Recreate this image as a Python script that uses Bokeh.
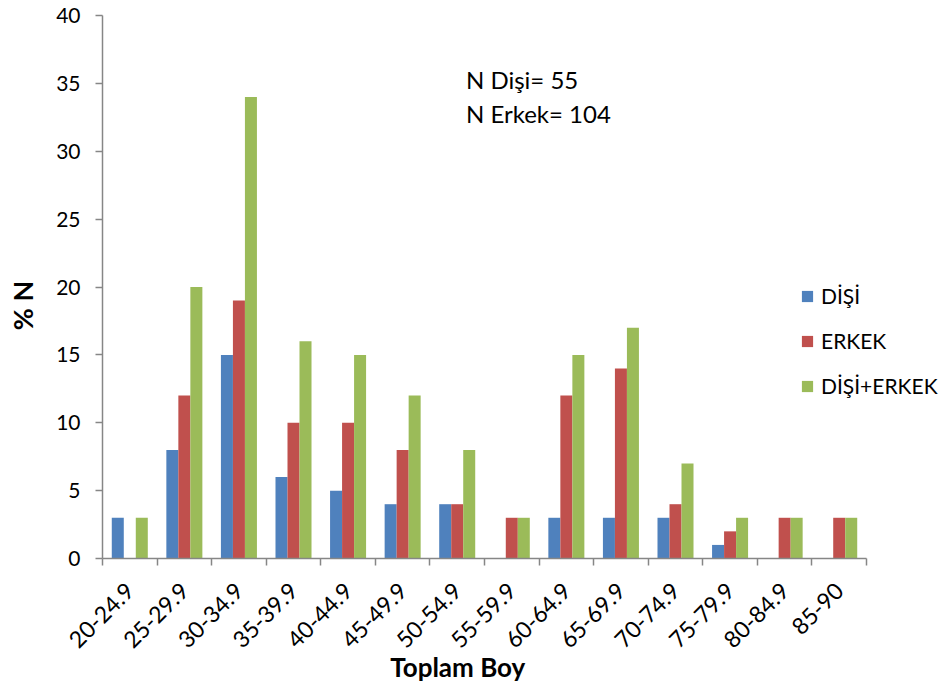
import numpy as np
from bokeh.plotting import figure
from bokeh.models import (ColumnDataSource, Range1d, FixedTicker, Legend, LegendItem, Label)
from bokeh.transform import dodge
from bokeh.embed import file_html
from bokeh.resources import INLINE

# Length classes (Toplam Boy) and percentage of individuals per class
categories = ["20-24.9", "25-29.9", "30-34.9", "35-39.9", "40-44.9", "45-49.9", "50-54.9",
              "55-59.9", "60-64.9", "65-69.9", "70-74.9", "75-79.9", "80-84.9", "85-90"]
disi = [3, 8, 15, 6, 5, 4, 4, 0, 3, 3, 3, 1, 0, 0]
erkek = [0, 12, 19, 10, 10, 8, 4, 3, 12, 14, 4, 2, 3, 3]
disi_erkek = [3, 20, 34, 16, 15, 12, 8, 3, 15, 17, 7, 3, 3, 3]
series_names = ["DİŞİ", "ERKEK", "DİŞİ+ERKEK"]
y_ticks = [0, 5, 10, 15, 20, 25, 30, 35, 40]
y_max = 40
n_disi = 55
n_erkek = 104

FONT = "Lato"
AXIS_COLOR = "#868686"
colors = ["#4F81BD", "#C0504D", "#9BBB59"]

W, H = 943, 685
# pixel box of the axes inside the canvas
LEFT, AXIS_RIGHT, TOP, AXIS_BOTTOM = 102, 866, 15, 558

n = len(categories)
idx = list(range(n))
source = ColumnDataSource(dict(x=idx, disi=disi, erkek=erkek, toplam=disi_erkek))

# The frame fills the whole canvas; both axes are pinned at the data origin and bounded
# to the data area, so titles, legend and rotated labels all fit around them.
px_x = (AXIS_RIGHT - LEFT) / n
px_y = (AXIS_BOTTOM - TOP) / y_max
x_start = -0.5 - LEFT / px_x
x_end = -0.5 + (W - LEFT) / px_x
y_start = -(H - AXIS_BOTTOM) / px_y
y_end = y_max + TOP / px_y

p = figure(width=W, height=H, output_backend="svg", toolbar_location=None,
           x_range=Range1d(x_start, x_end), y_range=Range1d(y_start, y_end),
           min_border=0)
p.outline_line_color = None
p.xgrid.grid_line_color = None
p.ygrid.grid_line_color = None
p.background_fill_color = "white"
p.border_fill_color = "white"

bw = 0.22
r1 = p.vbar(x=dodge("x", -bw, range=p.x_range), top="disi", width=bw, source=source,
            fill_color=colors[0], line_color=None)
r2 = p.vbar(x=dodge("x", 0, range=p.x_range), top="erkek", width=bw, source=source,
            fill_color=colors[1], line_color=None)
r3 = p.vbar(x=dodge("x", bw, range=p.x_range), top="toplam", width=bw, source=source,
            fill_color=colors[2], line_color=None)

# x axis on y = 0: labels at class centres, tick marks on class boundaries
xa = p.xaxis[0]
xa.fixed_location = 0
xa.bounds = (-0.5, n - 0.5)
xa.ticker = FixedTicker(ticks=idx, minor_ticks=[i - 0.5 for i in range(n + 1)])
xa.major_label_overrides = {i: c for i, c in zip(idx, categories)}
xa.major_label_orientation = np.pi / 4
xa.major_tick_line_color = None
xa.minor_tick_in = 0
xa.minor_tick_out = 7
xa.minor_tick_line_color = AXIS_COLOR
xa.minor_tick_line_width = 1.5
xa.axis_line_color = AXIS_COLOR
xa.axis_line_width = 1.5
xa.major_label_text_font = FONT
xa.major_label_text_font_size = "23px"
xa.major_label_text_color = "black"
xa.major_label_standoff = 21

# y axis on the left edge of the first class
ya = p.yaxis[0]
ya.fixed_location = -0.5
ya.bounds = (0, y_max)
ya.ticker = FixedTicker(ticks=y_ticks, minor_ticks=[])
ya.major_tick_in = 0
ya.major_tick_out = 7
ya.major_tick_line_color = AXIS_COLOR
ya.major_tick_line_width = 1.5
ya.minor_tick_line_color = None
ya.axis_line_color = AXIS_COLOR
ya.axis_line_width = 1.5
ya.major_label_text_font = FONT
ya.major_label_text_font_size = "21px"
ya.major_label_text_color = "black"
ya.major_label_standoff = 15

# axis titles
p.add_layout(Label(x=6.01, y=-8.0, text="Toplam Boy", text_font=FONT, text_font_size="26px",
                   text_font_style="bold", text_color="black",
                   text_align="center", text_baseline="middle"))
p.add_layout(Label(x=-1.96, y=18.64, text="% N", text_font=FONT, text_font_size="27px",
                   text_font_style="bold", text_color="black", angle=np.pi / 2,
                   text_align="center", text_baseline="middle"))

# sample sizes
p.add_layout(Label(x=6.16, y=35.29, text=f"N Dişi= {n_disi}", text_font=FONT,
                   text_font_size="24px", text_color="black", text_baseline="middle"))
p.add_layout(Label(x=6.16, y=32.8, text=f"N Erkek= {n_erkek}", text_font=FONT,
                   text_font_size="24px", text_color="black", text_baseline="middle"))

legend = Legend(items=[LegendItem(label=series_names[0], renderers=[r1]),
                       LegendItem(label=series_names[1], renderers=[r2]),
                       LegendItem(label=series_names[2], renderers=[r3])],
                location=(800, 287), orientation="vertical",
                glyph_width=14, glyph_height=14, label_height=20, spacing=20,
                padding=0, margin=0, label_standoff=7,
                label_text_font=FONT, label_text_font_size="21px",
                label_text_color="black",
                border_line_color=None, background_fill_alpha=0)
p.add_layout(legend, "center")

open("out.html", "w").write(file_html(p, INLINE))
